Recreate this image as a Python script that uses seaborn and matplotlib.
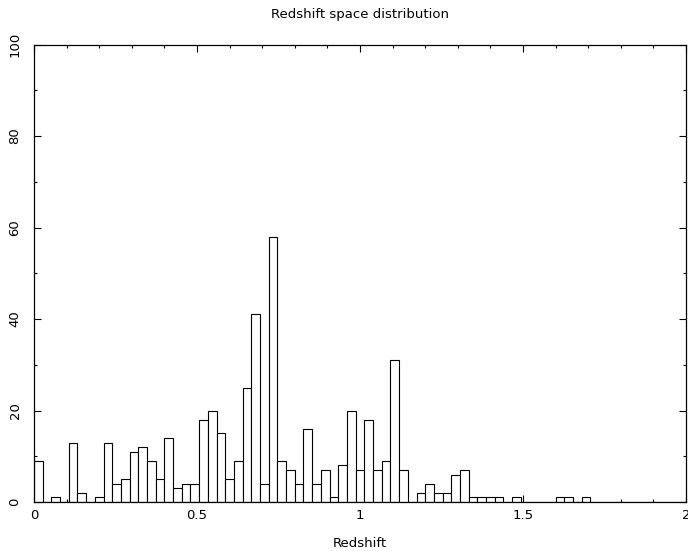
import matplotlib
matplotlib.use("Agg")
import matplotlib.pyplot as plt
import seaborn as sns
import numpy as np
import pandas as pd
from matplotlib.ticker import MultipleLocator, FuncFormatter

# counts per redshift bin, 75 bins of width 2/75 from 0 to 2
bin_lo = 0.0
bin_hi = 2.0
n_bins = 75
counts = [9, 0, 1, 0, 13, 2, 0, 1, 13, 4,
          5, 11, 12, 9, 5, 14, 3, 4, 4, 18,
          20, 15, 5, 9, 25, 41, 4, 58, 9, 7,
          4, 16, 4, 7, 1, 8, 20, 7, 18, 7,
          9, 31, 7, 0, 2, 4, 2, 2, 6, 7,
          1, 1, 1, 1, 0, 1, 0, 0, 0, 0,
          1, 1, 0, 1, 0, 0, 0, 0, 0, 0,
          0, 0, 0, 0, 0]

edges = np.linspace(bin_lo, bin_hi, n_bins + 1)
centers = (edges[:-1] + edges[1:]) / 2
df = pd.DataFrame({"z": centers, "n": counts})

sns.set_style("ticks")
plt.rcParams['font.family'] = ['DejaVu Sans']
plt.rcParams['text.color'] = 'black'
plt.rcParams['xtick.labelcolor'] = 'black'
plt.rcParams['ytick.labelcolor'] = 'black'
plt.rcParams['axes.labelcolor'] = 'black'

fig = plt.figure(figsize=(6.88, 5.51), dpi=100)
ax = fig.add_axes([34 / 688, 49 / 551, 652 / 688, 457.5 / 551])

sns.histplot(data=df, x="z", weights="n", binwidth=(bin_hi - bin_lo) / n_bins,
             binrange=(bin_lo, bin_hi), ax=ax,
             color="white", edgecolor="black", linewidth=0.8, alpha=1)

ax.set_xlim(0, 2)
ax.set_ylim(0, 100)
ax.xaxis.set_major_locator(MultipleLocator(0.5))
ax.xaxis.set_minor_locator(MultipleLocator(0.1))
ax.yaxis.set_major_locator(MultipleLocator(20))
ax.yaxis.set_minor_locator(MultipleLocator(10))
ax.xaxis.set_major_formatter(FuncFormatter(lambda v, p: f"{v:g}"))
ax.yaxis.set_major_formatter(FuncFormatter(lambda v, p: f"{v:g}"))

ax.tick_params(which="both", direction="in", top=True, right=True, width=0.8,
               labelsize=9.5, color="black", labelcolor="black")
ax.tick_params(which="major", length=5)
ax.tick_params(which="minor", length=2.5)
ax.tick_params(axis="x", pad=5)
ax.tick_params(axis="y", pad=9)
for lab in ax.get_yticklabels():
    lab.set_rotation(90)
    lab.set_va("center")

for s in ax.spines.values():
    s.set_visible(True)
    s.set_linewidth(0.9)
    s.set_color("black")

ax.set_title("Redshift space distribution", fontsize=9.5, pad=19, color="black")
ax.set_xlabel("Redshift", fontsize=9.5, labelpad=11, color="black")
ax.set_ylabel("")

fig.savefig("out.png", dpi=100)
